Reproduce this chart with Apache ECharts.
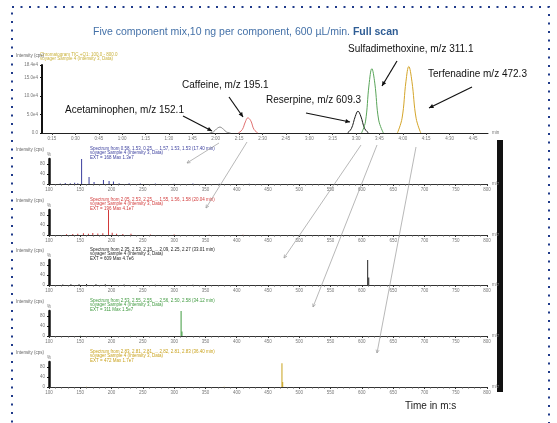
<!DOCTYPE html>
<html>
<head>
<meta charset="utf-8">
<script src="https://cdn.jsdelivr.net/npm/echarts@6/dist/echarts.min.js"></script>
<style>
  html, body { margin: 0; padding: 0; background: #fff; }
  #main { width: 557px; height: 423px; }
</style>
</head>
<body>
<div id="main"></div>
<script>
// chromatogram: time (s) vs intensity (cps)
var chromTicks = [15, 30, 45, 60, 75, 90, 105, 120, 135, 150, 165, 180, 195, 210, 225, 240, 255, 270, 285];
var acetTrace = [[116, 0], [118.5, 3000], [120.5, 11000], [122.7, 16000], [125, 10000], [127, 2500], [129.5, 0]];
var caffTrace = [[134.5, 0], [137, 9000], [139, 30000], [140.6, 41000], [142.5, 33000], [144.5, 10000], [147, 0]];
var reseTrace = [[204.5, 0], [207, 12000], [209.5, 45000], [211.2, 59000], [213, 46000], [215.5, 12000], [218, 0]];
var sulfTrace = [[213.5, 0], [216, 30000], [218.3, 130000], [220.1, 174000], [222, 135000], [224.5, 35000], [227.5, 0]];
var terfTrace = [[236.5, 0], [239.5, 40000], [242, 140000], [243.8, 180000], [245.8, 140000], [248.5, 40000], [251.5, 0]];

// mass spectra: m/z vs relative intensity (%)
var spec1 = [[118, 2], [126, 4], [134, 3], [141, 5], [146, 3], [152.1, 100], [164, 28], [172, 8], [187, 16], [196, 12], [203, 10], [212, 3], [228, 3], [246, 2], [270, 2], [300, 1.5], [330, 2], [372, 1.5], [420, 1.5]];
var spec2 = [[128, 3], [138, 4], [146, 5], [155, 7], [163, 5], [170, 8], [178, 6], [186, 7], [195.1, 100], [201, 9], [208, 5], [218, 4], [231, 5], [262, 2], [300, 2], [356, 1.5], [410, 1.5]];
var spec3 = [[122, 2], [135, 3], [148, 3], [160, 4], [175, 3], [190, 3], [220, 2], [270, 1.5], [330, 1.5], [609.3, 100], [611, 30]];
var spec4 = [[311.1, 100], [312.5, 18], [150, 1.5], [230, 1.5]];
var spec5 = [[472.3, 95], [473.5, 20], [160, 1.5], [380, 1.5]];

var spectra = [
  { data: spec1, color: '#3b3f9e', head: 'Spectrum from 0.58, 1.53, 0.25, ... 1.57, 1.53, 1.53 (17.40 min)\nvoyager Sample 4 (Intensity 3, Data)\nEXT = 168 Max 1.3e7' },
  { data: spec2, color: '#d23a3a', head: 'Spectrum from 2.05, 2.53, 2.25, ... 1.55, 1.56, 1.58 (20.04 min)\nvoyager Sample 4 (Intensity 3, Data)\nEXT = 196 Max 4.1e7' },
  { data: spec3, color: '#222222', head: 'Spectrum from 2.35, 2.53, 2.15, ... 2.09, 2.25, 2.27 (33.01 min)\nvoyager Sample 4 (Intensity 3, Data)\nEXT = 609 Max 4.7e6' },
  { data: spec4, color: '#3f9a3f', head: 'Spectrum from 2.53, 2.55, 2.55, ... 2.56, 2.50, 2.58 (34.12 min)\nvoyager Sample 4 (Intensity 3, Data)\nEXT = 311 Max 1.5e7' },
  { data: spec5, color: '#c9a21c', head: 'Spectrum from 2.83, 2.81, 2.81, ... 2.82, 2.81, 2.83 (36.40 min)\nvoyager Sample 4 (Intensity 3, Data)\nEXT = 472 Max 1.7e7' }
];

var chart = echarts.init(document.getElementById('main'));

var tiny = { fontSize: 4.5, color: '#777', fontFamily: 'Liberation Sans' };
var grids = [{ left: 42, top: 65, width: 446, height: 68 }];
var xAxes = [{
  gridIndex: 0, type: 'value', min: 8.6, max: 294.6,
  axisLine: { lineStyle: { color: '#222', width: 1 } },
  axisTick: { customValues: chromTicks, length: 2, lineStyle: { color: '#444' } },
  axisLabel: Object.assign({
    customValues: chromTicks, margin: 3,
    formatter: function (v) { var m = Math.floor(v / 60), s = v % 60; return m + ':' + (s < 10 ? '0' : '') + s; }
  }, tiny),
  splitLine: { show: false },
  name: 'min', nameGap: 4, nameTextStyle: tiny
}];
var yAxes = [{
  gridIndex: 0, type: 'value', min: 0, max: 184000, interval: 50000,
  axisLine: { show: true, lineStyle: { color: '#111', width: 2 } },
  axisTick: { show: true, length: 2 },
  axisLabel: Object.assign({ margin: 4, formatter: function (v) { return v === 0 ? '0.0' : (v / 10000).toFixed(1) + 'e4'; } }, tiny),
  splitLine: { show: false }
}];

var chromColors = ['#8a8a8a', '#e07070', '#1a1a1a', '#5aa55a', '#d4a52a'];
var series = [acetTrace, caffTrace, reseTrace, sulfTrace, terfTrace].map(function (d, i) {
  return {
    type: 'line', xAxisIndex: 0, yAxisIndex: 0, data: d, smooth: 0.4,
    symbol: 'none', lineStyle: { color: chromColors[i], width: 1 }, z: 3
  };
});

var graphics = [];
var baselines = [184, 235, 285, 336, 387];

spectra.forEach(function (sp, i) {
  var b = baselines[i];
  var gi = i + 1;
  grids.push({ left: 49, top: b - 25, width: 438, height: 25 });
  xAxes.push({
    gridIndex: gi, type: 'value', min: 100, max: 800, interval: 50,
    axisLine: { lineStyle: { color: '#333', width: 1 } },
    axisTick: { length: 2, lineStyle: { color: '#333' } },
    minorTick: { show: true, splitNumber: 5, length: 1.5, lineStyle: { color: '#555' } },
    axisLabel: Object.assign({ margin: 3 }, tiny),
    splitLine: { show: false },
    name: 'm/z', nameGap: 5, nameTextStyle: tiny
  });
  yAxes.push({
    gridIndex: gi, type: 'value', min: 0, max: 100, interval: 40,
    axisLine: { show: true, lineStyle: { color: '#111', width: 2.5 } },
    axisTick: { show: true, length: 2 },
    axisLabel: Object.assign({ margin: 4, showMaxLabel: false }, tiny),
    splitLine: { show: false },
    name: '%', nameGap: 2, nameTextStyle: tiny
  });
  series.push({
    type: 'bar', xAxisIndex: gi, yAxisIndex: gi, data: sp.data, barWidth: 1,
    itemStyle: { color: sp.color }, silent: true
  });
  graphics.push({
    type: 'text', left: 90, top: b - 38,
    style: { text: sp.head, fill: sp.color, font: '4.5px Liberation Sans', lineHeight: 4.5 }
  });
  graphics.push({
    type: 'text', left: 16, top: b - 37,
    style: { text: 'Intensity (cps)', fill: '#666', font: '4.5px Liberation Sans' }
  });
});

// chromatogram header
graphics.push({
  type: 'text', left: 40, top: 52,
  style: { text: 'Chromatogram TIC +Q1: 100.0 - 800.0\nvoyager Sample 4 (Intensity 3, Data)', fill: '#c9b13a', font: '4.5px Liberation Sans', lineHeight: 4.5 }
});
graphics.push({
  type: 'text', left: 16, top: 53,
  style: { text: 'Intensity (cps)', fill: '#666', font: '4.5px Liberation Sans' }
});

function arrow(x1, y1, x2, y2, color, w, h, open) {
  var a = Math.atan2(y2 - y1, x2 - x1), s = 0.45;
  var p1 = [x2 - h * Math.cos(a - s), y2 - h * Math.sin(a - s)];
  var p2 = [x2 - h * Math.cos(a + s), y2 - h * Math.sin(a + s)];
  var out = [{ type: 'line', shape: { x1: x1, y1: y1, x2: x2, y2: y2 }, style: { stroke: color, lineWidth: w }, z: 10 }];
  if (open) {
    out.push({ type: 'polyline', shape: { points: [p1, [x2, y2], p2] }, style: { stroke: color, lineWidth: w, fill: null }, z: 10 });
  } else {
    out.push({ type: 'polygon', shape: { points: [p1, [x2, y2], p2] }, style: { fill: color }, z: 10 });
  }
  return out;
}

// compound labels with black arrows
var labelFont = '10px Liberation Sans';
[
  ['Acetaminophen, m/z 152.1', 65, 105, [183, 116, 212, 131]],
  ['Caffeine, m/z 195.1', 182, 80, [229, 97, 243, 117]],
  ['Reserpine, m/z 609.3', 266, 95, [306, 113, 350, 122]],
  ['Sulfadimethoxine, m/z 311.1', 348, 44, [397, 61, 382, 86]],
  ['Terfenadine m/z 472.3', 428, 69, [472, 87, 429, 108]]
].forEach(function (l) {
  graphics.push({ type: 'text', left: l[1], top: l[2], style: { text: l[0], fill: '#111', font: labelFont }, z: 10 });
  graphics = graphics.concat(arrow(l[3][0], l[3][1], l[3][2], l[3][3], '#111', 1.2, 5, false));
});

// grey guide lines from peaks to spectra
[
  [219, 143, 187, 163],
  [247, 142, 206, 208],
  [361, 145, 284, 258],
  [377, 145, 313, 307],
  [416, 147, 377, 353]
].forEach(function (g) {
  graphics = graphics.concat(arrow(g[0], g[1], g[2], g[3], '#9a9a9a', 0.7, 3.5, true));
});

// black bar on the right, outer dotted frame, axis caption
graphics.push({ type: 'rect', shape: { x: 497, y: 140, width: 6, height: 252 }, style: { fill: '#111' } });
graphics.push({ type: 'rect', shape: { x: 12, y: 7, width: 537, height: 440 }, style: { fill: null, stroke: '#1f3a8a', lineWidth: 2, lineDash: [2, 6.5] }, z: 0 });
graphics.push({ type: 'text', left: 405, top: 401, style: { text: 'Time in m:s', fill: '#222', font: '10px Liberation Sans' } });

chart.setOption({
  animation: false,
  title: {
    left: 88, top: 22,
    text: '{a|Five component mix,10 ng per component, 600 µL/min. }{b|Full scan}',
    textStyle: {
      fontWeight: 'normal',
      rich: {
        a: { fontSize: 10.5, color: '#4471a8', fontWeight: 'normal', fontFamily: 'Liberation Sans' },
        b: { fontSize: 10.5, color: '#2f5d95', fontWeight: 'bold', fontFamily: 'Liberation Sans' }
      }
    }
  },
  grid: grids,
  xAxis: xAxes,
  yAxis: yAxes,
  series: series,
  graphic: graphics
});
</script>
</body>
</html>
